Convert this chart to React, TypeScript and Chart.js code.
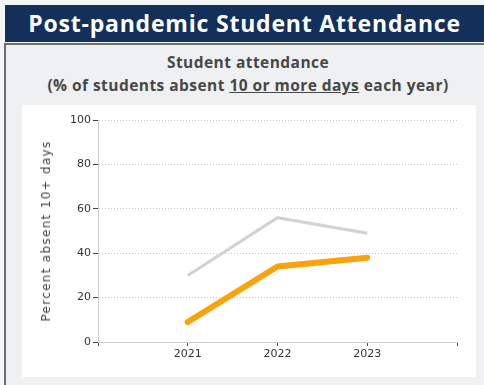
import React, { useEffect, useRef } from "react";
import { Chart, registerables } from "chart.js";

Chart.register(...registerables);

const years = [2021, 2022, 2023];
const grayValues = [30, 56, 49];
const orangeValues = [9, 34, 38];
const yTicks = [0, 20, 40, 60, 80, 100];
const yTitle = "Percent absent 10+ days";

function AttendanceChart() {
  const ref = useRef<HTMLCanvasElement | null>(null);
  useEffect(() => {
    if (!ref.current) return;
    const chart = new Chart(ref.current, {
      type: "line",
      data: {
        datasets: [
          {
            label: "Comparison",
            data: years.map((x, i) => ({ x, y: grayValues[i] })),
            borderColor: "#d2d2d2",
            borderWidth: 3,
            pointRadius: 0,
            tension: 0,
          },
          {
            label: "Students",
            data: years.map((x, i) => ({ x, y: orangeValues[i] })),
            borderColor: "#f8a20c",
            borderWidth: 6,
            borderCapStyle: "round",
            borderJoinStyle: "round",
            pointRadius: 0,
            tension: 0,
          },
        ],
      },
      options: {
        animation: false,
        responsive: false,
        maintainAspectRatio: false,
        layout: { padding: { left: 0, right: 19, top: 15, bottom: 0 } },
        plugins: { legend: { display: false }, tooltip: { enabled: false } },
        scales: {
          x: {
            type: "linear",
            min: 2020,
            max: 2024,
            afterFit: (s: any) => {
              s.height = 35;
            },
            ticks: {
              stepSize: 1,
              color: "#333",
              font: { family: "DejaVu Sans", size: 11 },
              padding: 2,
              callback: (v: any) => (years.includes(Number(v)) ? String(v) : ""),
            },
            grid: {
              drawOnChartArea: false,
              drawTicks: true,
              tickLength: 4,
              tickColor: "#555",
              tickWidth: 1,
            },
            border: { color: "#cfcfcf", width: 1 },
          },
          y: {
            min: 0,
            max: 100,
            afterFit: (s: any) => {
              s.width = 76;
            },
            afterBuildTicks: (s: any) => {
              s.ticks = yTicks.map((v) => ({ value: v }));
            },
            ticks: {
              color: "#333",
              font: { family: "DejaVu Sans", size: 11 },
              padding: 2,
            },
            grid: {
              color: (ctx: any) => (ctx.tick && ctx.tick.value === 0 ? "rgba(0,0,0,0)" : "#c4c4c4"),
              lineWidth: 1,
              tickLength: 5,
              tickColor: "#444",
              tickBorderDash: [],
            },
            border: { color: "#cfcfcf", width: 1, dash: [1, 2] },
            title: { display: false },
          },
        },
      },
    });
    return () => chart.destroy();
  }, []);
  return <canvas ref={ref} width={454} height={272} style={{ display: "block", width: 454, height: 272 }} />;
}

export default function App() {
  return (
    <div
      style={{
        position: "fixed",
        left: 0,
        top: 0,
        width: 484,
        height: 385,
        background: "#f4f5f7",
        overflow: "hidden",
        fontFamily: "'Open Sans', sans-serif",
      }}
    >
      <div
        style={{
          position: "absolute",
          left: 5,
          top: 5,
          width: 479,
          height: 37,
          background: "#12305a",
          color: "#fff",
          fontWeight: 700,
          fontSize: 23,
          lineHeight: "37px",
          textAlign: "center",
          letterSpacing: 0.8,
          whiteSpace: "nowrap",
        }}
      >
        Post-pandemic Student Attendance
      </div>
      <div
        style={{
          position: "absolute",
          left: 4,
          top: 43,
          width: 490,
          height: 350,
          borderLeft: "2px solid #6e6e6e",
          borderTop: "2px solid #6e6e6e",
          background: "#eef0f2",
          boxSizing: "border-box",
        }}
      />
      <div
        style={{
          position: "absolute",
          left: 6,
          top: 51,
          width: 484,
          textAlign: "center",
          color: "#474747",
          fontWeight: 700,
          fontSize: 15.5,
          letterSpacing: 0.45,
          lineHeight: "23px",
          whiteSpace: "nowrap",
        }}
      >
        <div>Student attendance</div>
        <div>
          (% of students absent <span style={{ textDecoration: "underline" }}>10 or more days</span> each year)
        </div>
      </div>
      <div style={{ position: "absolute", left: 22, top: 105, width: 454, height: 272, background: "#fff" }}>
        <AttendanceChart />
      </div>
      <div
        style={{
          position: "absolute",
          left: 46,
          top: 231,
          width: 0,
          height: 0,
        }}
      >
        <div
          style={{
            position: "absolute",
            left: 0,
            top: 0,
            transform: "translate(-50%, -50%) rotate(-90deg)",
            whiteSpace: "nowrap",
            fontFamily: "'DejaVu Sans', sans-serif",
            fontSize: 12,
            letterSpacing: 1.3,
            color: "#444",
            lineHeight: "14px",
          }}
        >
          {yTitle}
        </div>
      </div>
    </div>
  );
}
